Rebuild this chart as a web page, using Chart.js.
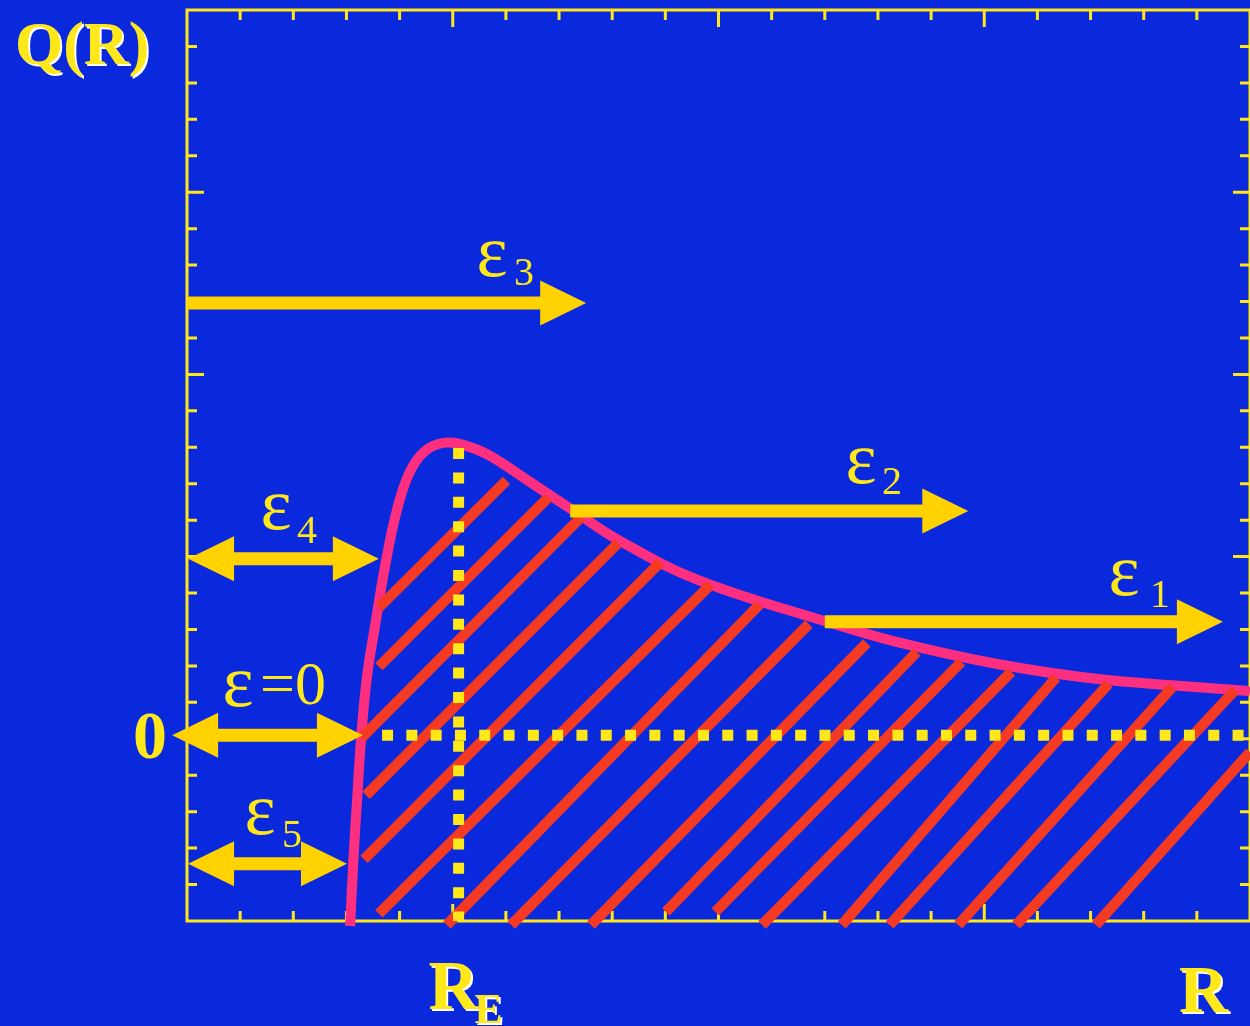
<!DOCTYPE html>
<html><head><meta charset="utf-8">
<script src="https://cdn.jsdelivr.net/npm/chart.js@4/dist/chart.umd.min.js"></script>
<style>html,body{margin:0;padding:0;background:#0a29dc;overflow:hidden}canvas{display:block}</style>
</head><body><canvas id="c" width="1250" height="1026"></canvas>
<script>
// ---- data (x in R tick units, y in Q tick units) ----
const curveX = [3.07, 3.13, 3.20, 3.28, 3.39, 3.54, 3.73, 3.95, 4.19, 4.48, 4.83, 5.21, 5.67, 6.42, 7.27, 8.11, 9.61, 12.04, 13.35, 15.22, 17.10, 19.91, 20.0];
const curveY = [-5.24, -3.43, -1.78, 0.0, 1.65, 3.02, 4.67, 6.18, 7.22, 7.80, 8.02, 7.96, 7.69, 6.98, 6.16, 5.36, 4.26, 3.11, 2.56, 1.96, 1.55, 1.22, 1.19];

const hatchX0 = [3.61, 3.61, 3.28, 3.37, 3.33, 3.61, 4.89, 6.10, 7.60, 9.01, 9.94, 10.82, 12.32, 13.22, 14.51, 15.60, 17.10];
const hatchY0 = [3.50, 1.88, -0.08, -1.65, -3.41, -4.90, -5.21, -5.21, -5.21, -4.85, -4.85, -5.21, -5.21, -5.21, -5.21, -5.21, -5.21];
const hatchX1 = [6.01, 6.80, 7.42, 8.11, 8.91, 9.85, 10.77, 11.70, 12.79, 13.73, 14.57, 15.51, 16.35, 17.34, 18.54, 19.72, 20.0];
const hatchY1 = [6.99, 6.53, 5.99, 5.27, 4.75, 4.13, 3.58, 3.05, 2.53, 2.28, 2.01, 1.74, 1.58, 1.41, 1.32, 1.24, -0.46];

const arrowNames = ['3', '2', '1', '4', '=0', '5'];
const arrowY  = [11.86, 6.15, 3.11, 4.84, 0.0, -3.53];
const arrowX0 = [0.00, 7.21, 12.00, 0.02, -0.28, 0.02];
const arrowX1 = [7.51, 14.70, 19.49, 3.61, 3.31, 3.01];
const arrowDouble = [false, false, false, true, true, true];

const RE = 5.11;          // equilibrium distance
const peakQ = 7.88;       // top of the vertical dotted line
const zeroStart = 3.67;   // start of the zero dotted line
const xMin = 0, xMax = 20;
const yMin = -5.1, yMax = 19.9;
const xTickCount = 20, yTickCount = 25;
const yAxisLabel = 'Q(R)';
const xAxisLabel = 'R';
const zeroLabel = '0';

// ---- styles ----
const BLUE = '#0a29dc', YEL = '#ffe81a', GOLD = '#ffd200', PINK = '#ff2f80', RED = '#f53a23';
const SERIF = '"Liberation Serif", "Times New Roman", serif';

const hatchSets = hatchX0.map((x0, i) => ({
  data: [{x: x0, y: hatchY0[i]}, {x: hatchX1[i], y: hatchY1[i]}],
  borderColor: RED, borderWidth: 10.5, borderCapStyle: 'butt', pointRadius: 0, clip: false, tension: 0
}));

const datasets = [
  {data: [{x: RE, y: peakQ}, {x: RE, y: yMin}], borderColor: YEL, borderWidth: 11, borderDash: [11, 13.4], borderCapStyle: 'butt', pointRadius: 0, clip: false},
  {data: [{x: zeroStart, y: 0}, {x: xMax, y: 0}], borderColor: YEL, borderWidth: 11, borderDash: [11, 13.3], borderCapStyle: 'butt', pointRadius: 0, clip: false},
  ...hatchSets,
  {data: curveX.map((x, i) => ({x, y: curveY[i]})), borderColor: PINK, borderWidth: 10, pointRadius: 0, tension: 0.4, clip: false}
];

const framePlugin = {
  id: 'frame',
  beforeDraw(chart) {
    const {ctx} = chart;
    ctx.save(); ctx.fillStyle = BLUE; ctx.fillRect(0, 0, chart.width, chart.height); ctx.restore();
  },
  beforeDatasetsDraw(chart) {
    const {ctx, chartArea: a, scales: {x, y}} = chart;
    ctx.save();
    ctx.strokeStyle = YEL; ctx.lineWidth = 3;
    ctx.strokeRect(a.left, a.top, a.right - a.left, a.bottom - a.top);
    ctx.beginPath();
    for (let k = 1; k < xTickCount; k++) {
      const px = x.getPixelForValue(xMin + k);
      const L = k % 5 === 0 ? 17 : 10;
      ctx.moveTo(px, a.bottom); ctx.lineTo(px, a.bottom - L);
      ctx.moveTo(px, a.top); ctx.lineTo(px, a.top + L);
    }
    for (let k = 1; k < yTickCount; k++) {
      const py = y.getPixelForValue(yMin + k);
      const L = k % 5 === 0 ? 17 : 10;
      ctx.moveTo(a.left, py); ctx.lineTo(a.left + L, py);
      ctx.moveTo(a.right, py); ctx.lineTo(a.right - L, py);
    }
    ctx.stroke();
    ctx.restore();
  },
  afterDatasetsDraw(chart) {
    const {ctx, scales: {x, y}} = chart;
    ctx.save();
    ctx.fillStyle = GOLD;
    const H = 46, W = 22.5, S = 6.5;
    arrowY.forEach((v, i) => {
      const py = y.getPixelForValue(v);
      const x0 = x.getPixelForValue(arrowX0[i]);
      const x1 = x.getPixelForValue(arrowX1[i]);
      const d = arrowDouble[i];
      ctx.beginPath();
      if (d) { ctx.moveTo(x0, py); ctx.lineTo(x0 + H, py - W); ctx.lineTo(x0 + H, py - S); }
      else ctx.moveTo(x0, py - S);
      ctx.lineTo(x1 - H, py - S); ctx.lineTo(x1 - H, py - W); ctx.lineTo(x1, py);
      ctx.lineTo(x1 - H, py + W); ctx.lineTo(x1 - H, py + S);
      if (d) { ctx.lineTo(x0 + H, py + S); ctx.lineTo(x0 + H, py + W); }
      else ctx.lineTo(x0, py + S);
      ctx.closePath(); ctx.fill();
    });

    // epsilon labels above the arrows
    ctx.fillStyle = YEL;
    ctx.textBaseline = 'alphabetic';
    const epsPos = [[492, 276, 514, 285], [861, 483, 882, 494], [1124, 595, 1150, 607], [276, 529, 297, 543], [238, 706, 260, 704], [260, 834, 282, 847]];
    arrowNames.forEach((n, i) => {
      const [ex, ey, sx, sy] = epsPos[i];
      ctx.font = '74px ' + SERIF;
      ctx.textAlign = 'center';
      ctx.fillText('ε', ex, ey);
      ctx.textAlign = 'left';
      ctx.font = (n === '=0' ? '62px ' : '40px ') + SERIF;
      ctx.fillText(n, sx, sy);
    });

    // bold axis labels with white shadow
    const shadowText = (t, px, py, font, align) => {
      ctx.font = font; ctx.textAlign = align || 'left';
      ctx.fillStyle = '#ffffff'; ctx.fillText(t, px + 2, py + 2);
      ctx.fillStyle = YEL; ctx.fillText(t, px, py);
    };
    shadowText(yAxisLabel, 15, 64, 'bold 62px ' + SERIF);
    const rx = x.getPixelForValue(RE);
    shadowText('R', rx - 30, 1009, 'bold 69px ' + SERIF);
    shadowText('E', rx + 16, 1023, 'bold 42px ' + SERIF);
    shadowText(xAxisLabel, 1179, 1012, 'bold 68px ' + SERIF);
    ctx.font = 'bold 68px ' + SERIF; ctx.textAlign = 'right'; ctx.fillStyle = YEL;
    ctx.fillText(zeroLabel, 167, y.getPixelForValue(0) + 23);
    ctx.restore();
  }
};

new Chart(document.getElementById('c'), {
  type: 'line',
  data: {datasets},
  options: {
    responsive: false, animation: false, events: [], devicePixelRatio: 1,
    layout: {padding: {left: 187, top: 10, right: -5, bottom: 105}},
    plugins: {legend: {display: false}, tooltip: {enabled: false}},
    scales: {
      x: {type: 'linear', min: xMin, max: xMax, display: false},
      y: {type: 'linear', min: yMin, max: yMax, display: false}
    }
  },
  plugins: [framePlugin]
});
</script></body></html>
